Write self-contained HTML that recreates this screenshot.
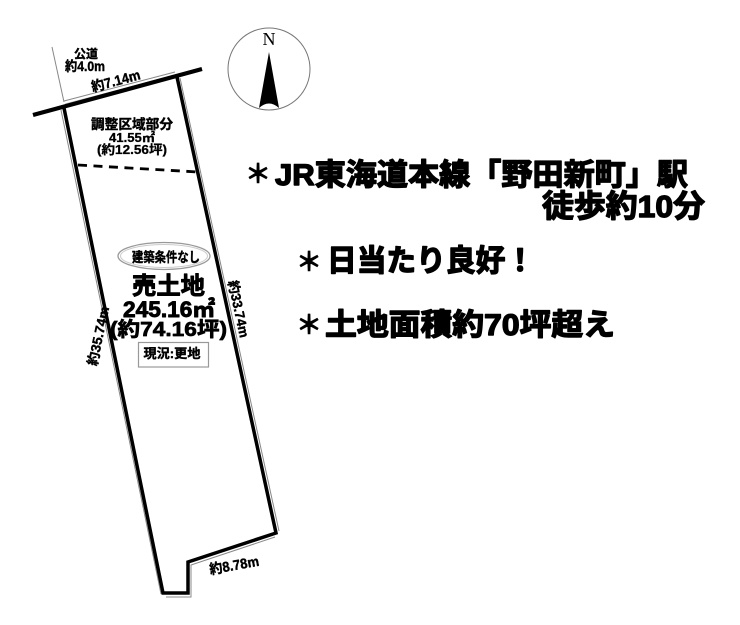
<!DOCTYPE html>
<html><head><meta charset="utf-8"><style>
html,body{margin:0;padding:0;background:#fff}
svg{display:block}
text{font-family:"Liberation Sans","Noto Sans CJK JP",sans-serif;font-weight:700;fill:#000;stroke:#000;stroke-linejoin:round}
.h{stroke-width:1.4px}
.a{stroke-width:.6px;font-family:"Noto Sans CJK JP",sans-serif}
</style></head><body>
<svg width="740" height="625" viewBox="0 0 740 625" xmlns="http://www.w3.org/2000/svg">
<rect width="740" height="625" fill="#fff"/>
<!-- compass -->
<circle cx="269" cy="69" r="41" fill="#fff" stroke="#777" stroke-width="1"/>
<text x="269" y="45" text-anchor="middle" style="font-family:'Liberation Serif',serif;font-weight:400;font-size:18px;stroke:none">N</text>
<path d="M269 52 L259 108 Q269 99 279 108 Z" fill="#000"/>
<!-- gray dimension lines -->
<g fill="none" stroke="#888" stroke-width="1">
<path d="M52 47 L64 102"/>
<path d="M64 101 L175 72"/>
<path d="M65 104 L176 75" stroke="#bbb"/>
<path d="M180 78 L279 531"/>
<path d="M61 110 L161 594"/>
<path d="M166 597 L191 597 L191 565 L275 537"/>
</g>
<!-- parcel -->
<path d="M33 115 L202 69" stroke="#000" stroke-width="4.200" fill="none"/>
<path d="M64 108 L163 593 L188 593 L188 562 L276 533 L177 77" stroke="#000" stroke-width="3.500" fill="none"/>
<path d="M78 165 L198 172" stroke="#000" stroke-width="2.800" stroke-dasharray="9 6.500" fill="none"/>
<!-- dimension labels -->
<text x="86" y="58" text-anchor="middle" font-size="12" style="stroke-width:.4px" textLength="24" lengthAdjust="spacingAndGlyphs">公道</text>
<text x="85" y="71" text-anchor="middle" font-size="13.500" style="stroke-width:.4px" textLength="40" lengthAdjust="spacingAndGlyphs">約4.0m</text>
<text font-size="14" style="stroke-width:.4px" text-anchor="middle" transform="translate(117 85.500) rotate(-15)" textLength="50" lengthAdjust="spacingAndGlyphs">約7.14m</text>
<text font-size="14" style="stroke-width:.4px" text-anchor="middle" transform="translate(235 570) rotate(-10)" textLength="50" lengthAdjust="spacingAndGlyphs">約8.78m</text>
<text font-size="13.500" style="stroke-width:.4px" text-anchor="middle" transform="translate(103 337) rotate(-78)" textLength="60" lengthAdjust="spacingAndGlyphs">約35.74m</text>
<text font-size="13.500" style="stroke-width:.4px" text-anchor="middle" transform="translate(234 310) rotate(78)" textLength="58" lengthAdjust="spacingAndGlyphs">約33.74m</text>
<!-- upper area -->
<text x="132" y="129" text-anchor="middle" font-size="13.500" style="stroke-width:.4px" textLength="82" lengthAdjust="spacingAndGlyphs">調整区域部分</text>
<text x="132" y="142" text-anchor="middle" font-size="12.500" style="stroke-width:.3px" textLength="46" lengthAdjust="spacingAndGlyphs">41.55㎡</text>
<text x="132" y="154" text-anchor="middle" font-size="12.500" style="stroke-width:.3px" textLength="70" lengthAdjust="spacingAndGlyphs">(約12.56坪)</text>
<!-- main -->
<ellipse cx="164" cy="256" rx="46" ry="13.500" fill="none" stroke="#999" stroke-width="1.300"/>
<ellipse cx="164" cy="256" rx="43.500" ry="11.500" fill="none" stroke="#ccc" stroke-width="1"/>
<text x="166" y="262" text-anchor="middle" font-size="13.500" style="stroke-width:.4px" textLength="68" lengthAdjust="spacingAndGlyphs">建築条件なし</text>
<text x="168.500" y="294" text-anchor="middle" font-size="24" style="stroke-width:.9px" textLength="73" lengthAdjust="spacingAndGlyphs">売土地</text>
<text x="169" y="317" text-anchor="middle" font-size="22" style="stroke-width:.9px" textLength="92" lengthAdjust="spacingAndGlyphs">245.16㎡</text>
<text x="168.500" y="336" text-anchor="middle" font-size="20" style="stroke-width:.7px" textLength="117" lengthAdjust="spacingAndGlyphs">(約74.16坪)</text>
<rect x="138.500" y="342.500" width="70" height="24.500" fill="none" stroke="#999" stroke-width="1.200"/>
<text x="172" y="358" text-anchor="middle" font-size="13" style="stroke-width:.4px" textLength="57" lengthAdjust="spacingAndGlyphs">現況:更地</text>
<!-- right text -->
<text x="245" y="183" font-size="26" class="a">＊</text>
<text x="275" y="185" font-size="30" class="h" textLength="413" lengthAdjust="spacingAndGlyphs">JR東海道本線「野田新町」駅</text>
<text x="542" y="217" font-size="31" class="h" textLength="163" lengthAdjust="spacingAndGlyphs">徒歩約10分</text>
<text x="296" y="271" font-size="26" class="a">＊</text>
<text x="327" y="271" font-size="30" class="h" textLength="208" lengthAdjust="spacingAndGlyphs">日当たり良好！</text>
<text x="296" y="334" font-size="26" class="a">＊</text>
<text x="325" y="335" font-size="30" class="h" textLength="290" lengthAdjust="spacingAndGlyphs">土地面積約70坪超え</text>
</svg>
</body></html>
